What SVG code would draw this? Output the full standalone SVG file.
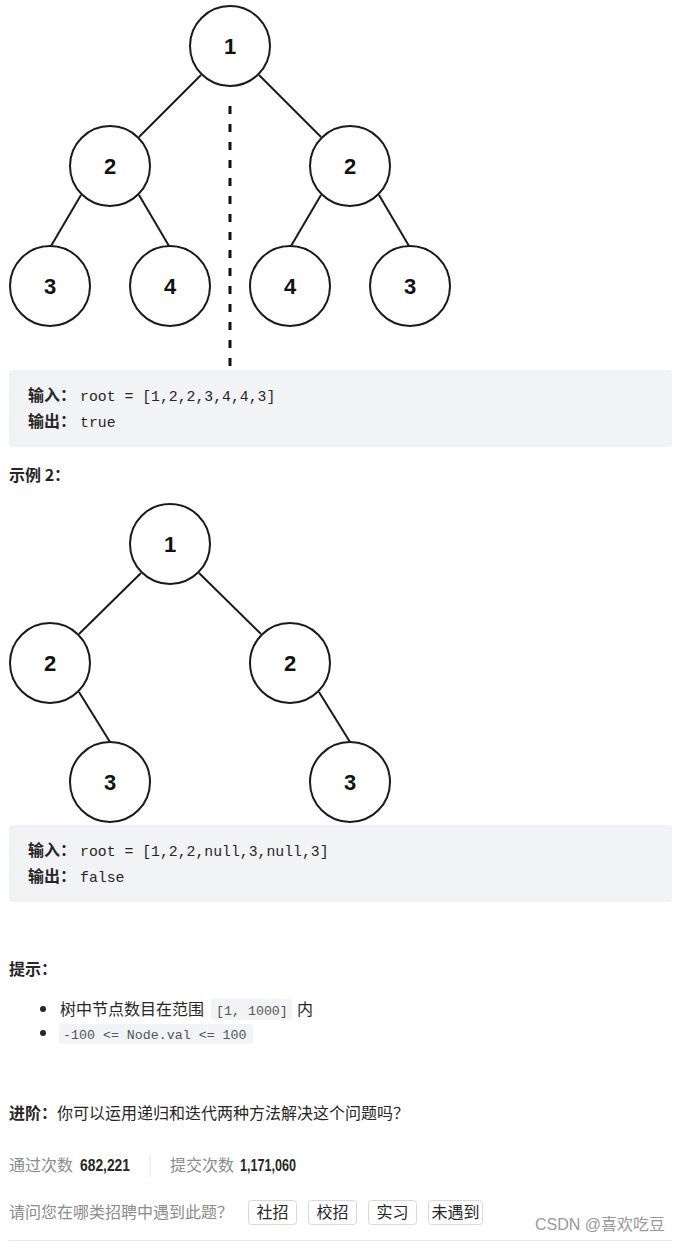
<svg xmlns="http://www.w3.org/2000/svg" width="686" height="1242" viewBox="0 0 686 1242">
<style>
.node circle{fill:#fff;stroke:#1a1a1a;stroke-width:2}
.node text{font-family:"Liberation Sans",Arial,sans-serif;font-size:22px;font-weight:bold;fill:#111;text-anchor:middle}
.edge{stroke:#1a1a1a;stroke-width:2;fill:none}
.dash{stroke:#111;stroke-width:3;stroke-dasharray:8 10;fill:none}
.box{fill:#f2f3f5}
.cjkb{font-family:"Noto Sans CJK SC","Liberation Sans",sans-serif;font-weight:bold;font-size:16px;fill:#262626}
.cjk{font-family:"Noto Sans CJK SC","Liberation Sans",sans-serif;font-size:16px;fill:#262626}
.mono{font-family:"Liberation Mono","DejaVu Sans Mono",monospace;font-size:14.8px;fill:#262626}
.code{font-family:"Liberation Mono","DejaVu Sans Mono",monospace;font-size:13.3px;fill:#555}
.gray{font-family:"Noto Sans CJK SC","Liberation Sans",sans-serif;font-size:16px;fill:#8c8c8c}
.num{font-family:"Liberation Sans",Arial,sans-serif;font-size:16px;font-weight:bold;fill:#262626}
.btn rect{fill:#fff;stroke:#d9d9d9;stroke-width:1}
.btn text{font-family:"Noto Sans CJK SC","Liberation Sans",sans-serif;font-size:16px;fill:#262626;text-anchor:middle}
</style>

<g id="connectors">
<line class="edge" x1="201" y1="75" x2="139" y2="137"/>
<line class="edge" x1="259" y1="75" x2="321" y2="137"/>
<line class="edge" x1="81" y1="195" x2="51" y2="246"/>
<line class="edge" x1="139" y1="195" x2="169" y2="246"/>
<line class="edge" x1="321" y1="195" x2="291" y2="246"/>
<line class="edge" x1="379" y1="195" x2="409" y2="246"/>
<line class="dash" x1="230" y1="106" x2="230" y2="368"/>
<line class="edge" x1="141" y1="573" x2="79" y2="634"/>
<line class="edge" x1="199" y1="573" x2="261" y2="634"/>
<line class="edge" x1="79" y1="692" x2="110" y2="742"/>
<line class="edge" x1="319" y1="692" x2="350" y2="742"/>
</g>

<g id="t1-n1" class="node"><circle cx="230" cy="46" r="40"/><text x="230" y="54">1</text></g>
<g id="t1-n2a" class="node"><circle cx="110" cy="166" r="40"/><text x="110" y="174">2</text></g>
<g id="t1-n2b" class="node"><circle cx="350" cy="166" r="40"/><text x="350" y="174">2</text></g>
<g id="t1-n3a" class="node"><circle cx="50" cy="286" r="40"/><text x="50" y="294">3</text></g>
<g id="t1-n4a" class="node"><circle cx="170" cy="286" r="40"/><text x="170" y="294">4</text></g>
<g id="t1-n4b" class="node"><circle cx="290" cy="286" r="40"/><text x="290" y="294">4</text></g>
<g id="t1-n3b" class="node"><circle cx="410" cy="286" r="40"/><text x="410" y="294">3</text></g>

<g id="example1-box">
<rect class="box" x="9" y="370" width="663" height="77" rx="4"/>
<text class="cjkb" x="28" y="401">输入：</text>
<text class="mono" x="80" y="401">root = [1,2,2,3,4,4,3]</text>
<text class="cjkb" x="28" y="427">输出：</text>
<text class="mono" x="80" y="427">true</text>
</g>

<text class="cjkb" x="9" y="481">示例 2：</text>

<g id="t2-n1" class="node"><circle cx="170" cy="544" r="40"/><text x="170" y="552">1</text></g>
<g id="t2-n2a" class="node"><circle cx="50" cy="663" r="40"/><text x="50" y="671">2</text></g>
<g id="t2-n2b" class="node"><circle cx="290" cy="663" r="40"/><text x="290" y="671">2</text></g>
<g id="t2-n3a" class="node"><circle cx="110" cy="782" r="40"/><text x="110" y="790">3</text></g>
<g id="t2-n3b" class="node"><circle cx="350" cy="782" r="40"/><text x="350" y="790">3</text></g>

<g id="example2-box">
<rect class="box" x="9" y="825" width="663" height="77" rx="4"/>
<text class="cjkb" x="28" y="856">输入：</text>
<text class="mono" x="80" y="856">root = [1,2,2,null,3,null,3]</text>
<text class="cjkb" x="28" y="882">输出：</text>
<text class="mono" x="80" y="882">false</text>
</g>

<g id="tips">
<text class="cjkb" x="9" y="975">提示：</text>
<circle cx="43" cy="1009" r="3" fill="#262626"/>
<text class="cjk" x="60" y="1015">树中节点数目在范围</text>
<rect x="211" y="999" width="81" height="21" rx="3" fill="#f2f3f5"/>
<text class="code" x="216" y="1015">[1, 1000]</text>
<text class="cjk" x="297" y="1015">内</text>
<circle cx="43" cy="1033" r="3" fill="#262626"/>
<rect x="59" y="1024" width="194" height="20" rx="3" fill="#f2f3f5"/>
<text class="code" x="63" y="1039">-100 &lt;= Node.val &lt;= 100</text>
</g>

<g id="advanced">
<text x="9" y="1119"><tspan class="cjkb">进阶：</tspan><tspan class="cjk">你可以运用递归和迭代两种方法解决这个问题吗？</tspan></text>
</g>

<g id="stats">
<text class="gray" x="9" y="1171">通过次数</text>
<text class="num" x="80" y="1171" textLength="50" lengthAdjust="spacingAndGlyphs">682,221</text>
<line x1="150" y1="1155" x2="150" y2="1177" stroke="#e5e5e5" stroke-width="1"/>
<text class="gray" x="170" y="1171">提交次数</text>
<text class="num" x="240" y="1171" textLength="56" lengthAdjust="spacingAndGlyphs">1,171,060</text>
</g>

<g id="survey">
<text class="gray" x="9" y="1218">请问您在哪类招聘中遇到此题？</text>
<g class="btn"><rect x="248.5" y="1200.5" width="48" height="24" rx="3"/><text x="272.5" y="1218">社招</text></g>
<g class="btn"><rect x="308.5" y="1200.5" width="48" height="24" rx="3"/><text x="332.5" y="1218">校招</text></g>
<g class="btn"><rect x="368.5" y="1200.5" width="48" height="24" rx="3"/><text x="392.5" y="1218">实习</text></g>
<g class="btn"><rect x="428.5" y="1200.5" width="54" height="24" rx="3"/><text x="455.5" y="1218">未遇到</text></g>
<text x="535" y="1230" font-family="'Liberation Sans','Noto Sans CJK SC',sans-serif" font-size="16" fill="#9a9a9a">CSDN @喜欢吃豆</text>
<line x1="9" y1="1240.5" x2="672" y2="1240.5" stroke="#e8e8e8" stroke-width="1"/>
</g>
</svg>
